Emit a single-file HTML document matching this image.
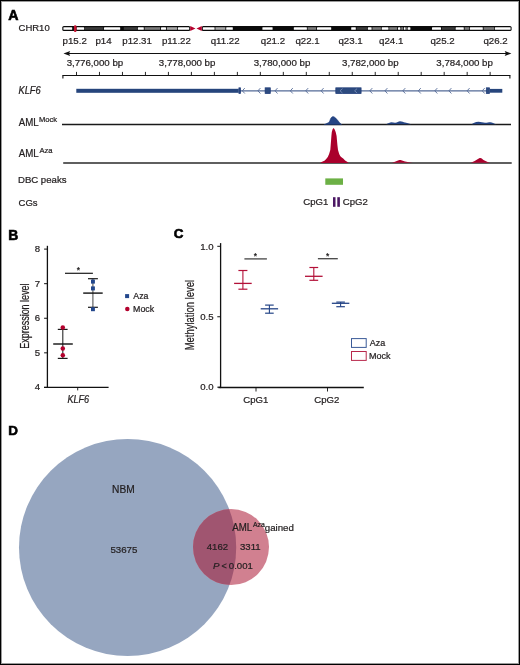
<!DOCTYPE html>
<html><head><meta charset="utf-8"><style>
html,body{margin:0;padding:0;background:#fff;}
svg{display:block;font-family:"Liberation Sans",sans-serif;}
svg{will-change:transform;}
text{stroke:#231f20;stroke-width:0.22px;}
text[font-weight=bold]{stroke:#000;stroke-width:0.6px;}
</style></head><body>
<svg width="520" height="665" viewBox="0 0 520 665">
<rect x="0" y="0" width="520" height="665" fill="#fff"/>
<text x="8.15" y="19.80" font-size="14.2" font-weight="bold" fill="#000">A</text>
<text x="18.52" y="31.30" font-size="9.5" fill="#231f20">CHR10</text>
<rect x="62.3" y="26.0" width="128.0" height="5.0" rx="1.6" fill="#0a0a0a"/>
<rect x="201.7" y="26.0" width="309.9" height="5.0" rx="1.6" fill="#0a0a0a"/>
<rect x="63.4" y="27.2" width="8.80" height="2.6" fill="#ffffff" rx="0.5"/>
<rect x="76.6" y="27.2" width="7.60" height="2.6" fill="#ffffff" rx="0.5"/>
<rect x="85.0" y="27.2" width="18.40" height="2.6" fill="#3c3c3c"/>
<rect x="104.0" y="27.2" width="16.20" height="2.6" fill="#ffffff" rx="0.5"/>
<rect x="123.8" y="27.2" width="13.20" height="2.6" fill="#3c3c3c"/>
<rect x="137.8" y="27.2" width="6.00" height="2.6" fill="#ffffff" rx="0.5"/>
<rect x="144.6" y="27.2" width="15.60" height="2.6" fill="#7d7d7d"/>
<rect x="161.0" y="27.2" width="5.00" height="2.6" fill="#ffffff" rx="0.5"/>
<rect x="166.8" y="27.2" width="10.20" height="2.6" fill="#a9a9a9"/>
<rect x="177.8" y="27.2" width="11.40" height="2.6" fill="#ffffff" rx="0.5"/>
<rect x="202.8" y="27.2" width="11.80" height="2.6" fill="#ffffff" rx="0.5"/>
<rect x="215.4" y="27.2" width="10.00" height="2.6" fill="#a9a9a9"/>
<rect x="226.2" y="27.2" width="6.60" height="2.6" fill="#ffffff" rx="0.5"/>
<rect x="262.4" y="27.2" width="10.20" height="2.6" fill="#ffffff" rx="0.5"/>
<rect x="293.8" y="27.2" width="13.10" height="2.6" fill="#ffffff" rx="0.5"/>
<rect x="307.6" y="27.2" width="8.60" height="2.6" fill="#7d7d7d"/>
<rect x="317.0" y="27.2" width="14.20" height="2.6" fill="#ffffff" rx="0.5"/>
<rect x="351.2" y="27.2" width="4.60" height="2.6" fill="#ffffff" rx="0.5"/>
<rect x="356.6" y="27.2" width="10.40" height="2.6" fill="#3c3c3c"/>
<rect x="367.8" y="27.2" width="3.80" height="2.6" fill="#ffffff" rx="0.5"/>
<rect x="372.4" y="27.2" width="8.50" height="2.6" fill="#7d7d7d"/>
<rect x="381.7" y="27.2" width="6.80" height="2.6" fill="#ffffff" rx="0.5"/>
<rect x="389.2" y="27.2" width="8.00" height="2.6" fill="#7d7d7d"/>
<rect x="398.0" y="27.2" width="2.40" height="2.6" fill="#ffffff" rx="0.5"/>
<rect x="401.2" y="27.2" width="1.80" height="2.6" fill="#7d7d7d"/>
<rect x="403.8" y="27.2" width="1.80" height="2.6" fill="#ffffff" rx="0.5"/>
<rect x="406.2" y="27.2" width="0.80" height="2.6" fill="#7d7d7d"/>
<rect x="407.6" y="27.2" width="2.80" height="2.6" fill="#ffffff" rx="0.5"/>
<rect x="432.0" y="27.2" width="9.00" height="2.6" fill="#ffffff" rx="0.5"/>
<rect x="441.8" y="27.2" width="13.00" height="2.6" fill="#3c3c3c"/>
<rect x="455.6" y="27.2" width="8.20" height="2.6" fill="#ffffff" rx="0.5"/>
<rect x="464.6" y="27.2" width="4.40" height="2.6" fill="#7d7d7d"/>
<rect x="469.8" y="27.2" width="13.00" height="2.6" fill="#ffffff" rx="0.5"/>
<rect x="483.6" y="27.2" width="10.40" height="2.6" fill="#7d7d7d"/>
<rect x="494.8" y="27.2" width="15.80" height="2.6" fill="#ffffff" rx="0.5"/>
<path d="M190.2,26.1 L195.5,28.5 L190.2,30.9 Z M201.8,26.1 L196.5,28.5 L201.8,30.9 Z" fill="#b5002c" stroke="none" stroke-width="1"/>
<rect x="73.9" y="25.2" width="2.6" height="6.8" rx="1.2" fill="#c4102e"/>
<text x="62.57" y="43.80" font-size="9.7" fill="#231f20">p15.2</text>
<text x="95.47" y="43.80" font-size="9.7" fill="#231f20">p14</text>
<text x="122.27" y="43.80" font-size="9.7" fill="#231f20">p12.31</text>
<text x="161.97" y="43.80" font-size="9.7" fill="#231f20">p11.22</text>
<text x="210.69" y="43.80" font-size="9.7" fill="#231f20">q11.22</text>
<text x="260.79" y="43.80" font-size="9.7" fill="#231f20">q21.2</text>
<text x="295.39" y="43.80" font-size="9.7" fill="#231f20">q22.1</text>
<text x="338.49" y="43.80" font-size="9.7" fill="#231f20">q23.1</text>
<text x="379.09" y="43.80" font-size="9.7" fill="#231f20">q24.1</text>
<text x="430.39" y="43.80" font-size="9.7" fill="#231f20">q25.2</text>
<text x="483.39" y="43.80" font-size="9.7" fill="#231f20">q26.2</text>
<line x1="69.00" y1="53.50" x2="506.00" y2="53.50" stroke="#111" stroke-width="1"/>
<path d="M63.5,53.5 L70.2,51.0 L69,53.5 L70.2,56.0 Z" fill="#111" stroke="none" stroke-width="1"/>
<path d="M511.4,53.5 L504.7,51.0 L505.9,53.5 L504.7,56.0 Z" fill="#111" stroke="none" stroke-width="1"/>
<text x="66.63" y="65.80" font-size="9.7" fill="#231f20">3,776,000 bp</text>
<text x="158.83" y="65.80" font-size="9.7" fill="#231f20">3,778,000 bp</text>
<text x="253.73" y="65.80" font-size="9.7" fill="#231f20">3,780,000 bp</text>
<text x="342.03" y="65.80" font-size="9.7" fill="#231f20">3,782,000 bp</text>
<text x="436.33" y="65.80" font-size="9.7" fill="#231f20">3,784,000 bp</text>
<line x1="62.40" y1="75.50" x2="510.40" y2="75.50" stroke="#111" stroke-width="1.1"/>
<line x1="62.90" y1="75.50" x2="62.90" y2="78.50" stroke="#111" stroke-width="1.1"/>
<line x1="509.90" y1="75.50" x2="509.90" y2="78.50" stroke="#111" stroke-width="1.1"/>
<line x1="76.50" y1="71.90" x2="76.50" y2="75.50" stroke="#111" stroke-width="0.9"/>
<line x1="99.48" y1="71.90" x2="99.48" y2="75.50" stroke="#111" stroke-width="0.9"/>
<line x1="122.46" y1="71.90" x2="122.46" y2="75.50" stroke="#111" stroke-width="0.9"/>
<line x1="145.44" y1="71.90" x2="145.44" y2="75.50" stroke="#111" stroke-width="0.9"/>
<line x1="168.42" y1="71.90" x2="168.42" y2="75.50" stroke="#111" stroke-width="0.9"/>
<line x1="191.40" y1="71.90" x2="191.40" y2="75.50" stroke="#111" stroke-width="0.9"/>
<line x1="214.38" y1="71.90" x2="214.38" y2="75.50" stroke="#111" stroke-width="0.9"/>
<line x1="237.36" y1="71.90" x2="237.36" y2="75.50" stroke="#111" stroke-width="0.9"/>
<line x1="260.34" y1="71.90" x2="260.34" y2="75.50" stroke="#111" stroke-width="0.9"/>
<line x1="283.32" y1="71.90" x2="283.32" y2="75.50" stroke="#111" stroke-width="0.9"/>
<line x1="306.30" y1="71.90" x2="306.30" y2="75.50" stroke="#111" stroke-width="0.9"/>
<line x1="329.28" y1="71.90" x2="329.28" y2="75.50" stroke="#111" stroke-width="0.9"/>
<line x1="352.26" y1="71.90" x2="352.26" y2="75.50" stroke="#111" stroke-width="0.9"/>
<line x1="375.24" y1="71.90" x2="375.24" y2="75.50" stroke="#111" stroke-width="0.9"/>
<line x1="398.22" y1="71.90" x2="398.22" y2="75.50" stroke="#111" stroke-width="0.9"/>
<line x1="421.20" y1="71.90" x2="421.20" y2="75.50" stroke="#111" stroke-width="0.9"/>
<line x1="444.18" y1="71.90" x2="444.18" y2="75.50" stroke="#111" stroke-width="0.9"/>
<line x1="467.16" y1="71.90" x2="467.16" y2="75.50" stroke="#111" stroke-width="0.9"/>
<line x1="490.14" y1="71.90" x2="490.14" y2="75.50" stroke="#111" stroke-width="0.9"/>
<text transform="translate(18.51,93.70) scale(1,1.08)" font-size="9.3" font-style="italic" fill="#231f20">KLF6</text>
<rect x="76.30" y="88.80" width="162.40" height="4.00" fill="#26457c"/>
<line x1="240.00" y1="90.90" x2="487.00" y2="90.90" stroke="#556b97" stroke-width="1.4"/>
<rect x="238.90" y="87.80" width="1.70" height="5.80" fill="#2d4b7f" stroke="#1d3a78" stroke-width="0.7"/>
<rect x="265.10" y="87.80" width="5.20" height="5.80" fill="#2d4b7f" stroke="#1d3a78" stroke-width="0.7"/>
<rect x="335.80" y="87.80" width="25.30" height="5.80" fill="#2d4b7f" stroke="#1d3a78" stroke-width="0.7"/>
<rect x="486.30" y="87.80" width="3.30" height="5.80" fill="#2d4b7f" stroke="#1d3a78" stroke-width="0.7"/>
<rect x="489.90" y="88.90" width="12.40" height="3.80" fill="#26457c"/>
<path d="M244.80,88.1 L242.30,90.8 L244.80,93.5" fill="none" stroke="#556b97" stroke-width="0.9"/>
<path d="M260.40,88.1 L257.90,90.8 L260.40,93.5" fill="none" stroke="#556b97" stroke-width="0.9"/>
<path d="M277.50,88.1 L275.00,90.8 L277.50,93.5" fill="none" stroke="#556b97" stroke-width="0.9"/>
<path d="M292.80,88.1 L290.30,90.8 L292.80,93.5" fill="none" stroke="#556b97" stroke-width="0.9"/>
<path d="M308.20,88.1 L305.70,90.8 L308.20,93.5" fill="none" stroke="#556b97" stroke-width="0.9"/>
<path d="M323.60,88.1 L321.10,90.8 L323.60,93.5" fill="none" stroke="#556b97" stroke-width="0.9"/>
<path d="M372.30,88.1 L369.80,90.8 L372.30,93.5" fill="none" stroke="#556b97" stroke-width="0.9"/>
<path d="M387.40,88.1 L384.90,90.8 L387.40,93.5" fill="none" stroke="#556b97" stroke-width="0.9"/>
<path d="M405.30,88.1 L402.80,90.8 L405.30,93.5" fill="none" stroke="#556b97" stroke-width="0.9"/>
<path d="M420.80,88.1 L418.30,90.8 L420.80,93.5" fill="none" stroke="#556b97" stroke-width="0.9"/>
<path d="M437.30,88.1 L434.80,90.8 L437.30,93.5" fill="none" stroke="#556b97" stroke-width="0.9"/>
<path d="M451.40,88.1 L448.90,90.8 L451.40,93.5" fill="none" stroke="#556b97" stroke-width="0.9"/>
<path d="M469.60,88.1 L467.10,90.8 L469.60,93.5" fill="none" stroke="#556b97" stroke-width="0.9"/>
<path d="M484.70,88.1 L482.20,90.8 L484.70,93.5" fill="none" stroke="#556b97" stroke-width="0.9"/>
<path d="M342.50,88.6 L340.00,90.8 L342.50,93.0" fill="none" stroke="#7f93bb" stroke-width="0.8"/>
<path d="M357.10,88.6 L354.60,90.8 L357.10,93.0" fill="none" stroke="#7f93bb" stroke-width="0.8"/>
<text transform="translate(18.78,125.75) scale(1,1.06)" font-size="9.7" fill="#231f20">AML</text>
<text x="38.88" y="121.80" font-size="7.6" fill="#231f20">Mock</text>
<line x1="62.00" y1="124.50" x2="511.00" y2="124.50" stroke="#1a1a1a" stroke-width="1.3"/>
<path d="M324.1,124.6 L325.5,124.0 L327.5,123.1 L328.6,122.5 L329.4,121.6 L330.0,120.2 L330.5,118.7 L331.3,117.6 L332.2,116.8 L333.2,116.5 L334.7,117.2 L335.7,118.1 L336.6,119.1 L338.1,120.8 L339.4,122.5 L340.6,123.5 L341.7,124.6 Z" fill="#254585" stroke="#1d3a78" stroke-width="0.5"/>
<path d="M386.2,124.3 C388,123.5 390,122.3 391.5,122.3 C393,122.4 394,123 395.5,122.8 C397,122.5 398.5,121.2 400,121.2 C402,121.2 403.5,122.2 405,122.5 C407,122.8 409,123.6 411.2,124.3 Z" fill="#254585" stroke="none" stroke-width="1"/>
<path d="M471.5,124.3 C473,123.5 475,122 478.5,121.8 C481,121.8 483,122.6 485,122.8 C487,122.9 488.5,122.2 490.4,122.2 C492,122.3 494,123.6 496.5,124.3 Z" fill="#254585" stroke="none" stroke-width="1"/>
<text transform="translate(18.73,156.75) scale(1,1.06)" font-size="9.7" fill="#231f20">AML</text>
<text x="39.49" y="152.60" font-size="7.6" fill="#231f20">Aza</text>
<line x1="63.20" y1="163.00" x2="511.70" y2="163.00" stroke="#2a2a2a" stroke-width="1.3"/>
<path d="M320.6,163.0 L321.1,162.2 L324.8,160.5 L326.6,158.5 L327.8,157 L329.1,154 L330.3,150 L330.7,145 L331.1,140 L331.4,136 L331.8,132 L332.6,129.3 L333.5,128.0 L334.4,129 L335.3,131 L335.8,132.5 L336.6,136 L336.9,139.5 L337.4,145 L338,150 L339.2,154 L340.2,156 L341.1,157 L343.2,158.5 L345.1,160.5 L347.5,162 L348.5,163.0 Z" fill="#aa002c" stroke="none" stroke-width="1"/>
<path d="M391.9,162.7 C394,162.2 396,161.2 398,160.5 C399,160.1 400,160 400.6,160 C402,160.2 403.5,161 405,161.5 C407.5,162.1 410,162.3 412.7,162.7 Z" fill="#aa002c" stroke="none" stroke-width="1"/>
<path d="M470.8,162.7 C473,162 475.5,160.6 477.5,159.3 C478.8,158.4 479.7,158.1 480.4,158.1 C481.3,158.2 482.2,159 483.5,159.9 C485.5,161 487.5,161.8 490,162.7 Z" fill="#aa002c" stroke="none" stroke-width="1"/>
<text x="17.96" y="183.25" font-size="9.6" fill="#231f20">DBC peaks</text>
<rect x="325.30" y="178.40" width="17.70" height="6.40" fill="#6cb045"/>
<text x="18.52" y="206.10" font-size="9.5" fill="#231f20">CGs</text>
<text x="303.31" y="204.90" font-size="9.6" fill="#231f20">CpG1</text>
<text x="342.81" y="204.90" font-size="9.6" fill="#231f20">CpG2</text>
<rect x="333.00" y="197.20" width="2.50" height="9.60" fill="#4b1763"/>
<rect x="337.30" y="197.20" width="2.60" height="9.60" fill="#4b1763"/>
<text x="8.27" y="240.30" font-size="13.9" font-weight="bold" fill="#000">B</text>
<line x1="47.40" y1="245.80" x2="47.40" y2="388.00" stroke="#111" stroke-width="1.3"/>
<line x1="44.00" y1="387.40" x2="108.60" y2="387.40" stroke="#111" stroke-width="1.3"/>
<line x1="44.10" y1="249.10" x2="47.40" y2="249.10" stroke="#111" stroke-width="1.0"/>
<text x="34.78" y="252.10" font-size="9.6" fill="#231f20">8</text>
<line x1="44.10" y1="283.68" x2="47.40" y2="283.68" stroke="#111" stroke-width="1.0"/>
<text x="34.84" y="286.68" font-size="9.6" fill="#231f20">7</text>
<line x1="44.10" y1="318.26" x2="47.40" y2="318.26" stroke="#111" stroke-width="1.0"/>
<text x="34.78" y="321.26" font-size="9.6" fill="#231f20">6</text>
<line x1="44.10" y1="352.84" x2="47.40" y2="352.84" stroke="#111" stroke-width="1.0"/>
<text x="34.76" y="355.84" font-size="9.6" fill="#231f20">5</text>
<line x1="44.10" y1="387.42" x2="47.40" y2="387.42" stroke="#111" stroke-width="1.0"/>
<text x="34.64" y="390.42" font-size="9.6" fill="#231f20">4</text>
<line x1="77.70" y1="387.40" x2="77.70" y2="390.40" stroke="#111" stroke-width="0.9"/>
<text transform="translate(67.42,402.80) scale(1,1.1)" font-size="9.1" font-style="italic" fill="#231f20">KLF6</text>
<g transform="translate(29.0,316.1) rotate(-90)"><text x="0" y="0" font-size="12" text-anchor="middle" transform="scale(0.747,1)" fill="#231f20">Expression level</text></g>
<line x1="65.00" y1="273.30" x2="92.90" y2="273.30" stroke="#1a1a1a" stroke-width="1.2"/>
<text x="76.86" y="273.00" font-size="8.5" fill="#111">*</text>
<line x1="92.90" y1="278.70" x2="92.90" y2="307.30" stroke="#555" stroke-width="1.1"/>
<line x1="88.00" y1="278.70" x2="97.90" y2="278.70" stroke="#1a1a1a" stroke-width="1.2"/>
<line x1="88.00" y1="307.30" x2="97.90" y2="307.30" stroke="#1a1a1a" stroke-width="1.2"/>
<rect x="91.00" y="279.60" width="3.90" height="4.00" fill="#23478c"/>
<rect x="91.00" y="286.40" width="3.90" height="4.00" fill="#23478c"/>
<rect x="91.00" y="307.20" width="3.90" height="4.00" fill="#23478c"/>
<line x1="83.20" y1="293.10" x2="102.70" y2="293.10" stroke="#111" stroke-width="1.4"/>
<line x1="62.80" y1="329.40" x2="62.80" y2="358.40" stroke="#2a2a2a" stroke-width="1.1"/>
<line x1="57.80" y1="329.40" x2="67.60" y2="329.40" stroke="#1a1a1a" stroke-width="1.2"/>
<line x1="57.80" y1="358.40" x2="67.60" y2="358.40" stroke="#1a1a1a" stroke-width="1.2"/>
<circle cx="62.8" cy="327.6" r="2.25" fill="#b3002d"/>
<circle cx="62.8" cy="348.4" r="2.25" fill="#b3002d"/>
<circle cx="62.8" cy="355.2" r="2.25" fill="#b3002d"/>
<line x1="53.20" y1="344.00" x2="72.80" y2="344.00" stroke="#111" stroke-width="1.4"/>
<rect x="125.10" y="294.10" width="4.00" height="4.00" fill="#23478c"/>
<text x="133.28" y="298.50" font-size="8.8" fill="#231f20">Aza</text>
<circle cx="127.3" cy="309.0" r="2.25" fill="#b3002d"/>
<text x="133.08" y="311.90" font-size="8.8" fill="#231f20">Mock</text>
<text x="173.65" y="237.70" font-size="13.4" font-weight="bold" fill="#000">C</text>
<line x1="220.60" y1="243.10" x2="220.60" y2="388.10" stroke="#111" stroke-width="1.3"/>
<line x1="218.40" y1="387.50" x2="363.80" y2="387.50" stroke="#111" stroke-width="1.3"/>
<line x1="217.30" y1="246.30" x2="220.60" y2="246.30" stroke="#111" stroke-width="1.0"/>
<text x="200.23" y="249.50" font-size="9.6" fill="#231f20">1.0</text>
<line x1="217.30" y1="316.75" x2="220.60" y2="316.75" stroke="#111" stroke-width="1.0"/>
<text x="200.26" y="319.95" font-size="9.6" fill="#231f20">0.5</text>
<line x1="217.30" y1="387.20" x2="220.60" y2="387.20" stroke="#111" stroke-width="1.0"/>
<text x="200.23" y="390.40" font-size="9.6" fill="#231f20">0.0</text>
<line x1="256.00" y1="387.50" x2="256.00" y2="391.50" stroke="#111" stroke-width="0.9"/>
<line x1="327.50" y1="387.50" x2="327.50" y2="391.50" stroke="#111" stroke-width="0.9"/>
<text x="243.31" y="402.90" font-size="9.6" fill="#231f20">CpG1</text>
<text x="314.31" y="403.40" font-size="9.6" fill="#231f20">CpG2</text>
<g transform="translate(194.0,315.1) rotate(-90)"><text x="0" y="0" font-size="12" text-anchor="middle" transform="scale(0.788,1)" fill="#231f20">Methylation level</text></g>
<line x1="244.40" y1="258.90" x2="266.90" y2="258.90" stroke="#444" stroke-width="1.3"/>
<text x="253.86" y="258.60" font-size="8.5" fill="#111">*</text>
<line x1="317.90" y1="258.70" x2="337.80" y2="258.70" stroke="#444" stroke-width="1.3"/>
<text x="325.96" y="258.50" font-size="8.5" fill="#111">*</text>
<line x1="242.90" y1="270.50" x2="242.90" y2="289.20" stroke="#b31038" stroke-width="1.1"/>
<line x1="238.40" y1="270.50" x2="247.40" y2="270.50" stroke="#b31038" stroke-width="1.2"/>
<line x1="238.40" y1="289.20" x2="247.40" y2="289.20" stroke="#b31038" stroke-width="1.2"/>
<line x1="234.10" y1="283.40" x2="251.70" y2="283.40" stroke="#b31038" stroke-width="1.3"/>
<line x1="269.40" y1="305.10" x2="269.40" y2="313.20" stroke="#254587" stroke-width="1.1"/>
<line x1="265.10" y1="305.10" x2="273.70" y2="305.10" stroke="#254587" stroke-width="1.2"/>
<line x1="265.10" y1="313.20" x2="273.70" y2="313.20" stroke="#254587" stroke-width="1.2"/>
<line x1="260.70" y1="308.80" x2="278.10" y2="308.80" stroke="#254587" stroke-width="1.3"/>
<line x1="313.80" y1="267.50" x2="313.80" y2="280.30" stroke="#b31038" stroke-width="1.1"/>
<line x1="309.40" y1="267.50" x2="318.20" y2="267.50" stroke="#b31038" stroke-width="1.2"/>
<line x1="309.40" y1="280.30" x2="318.20" y2="280.30" stroke="#b31038" stroke-width="1.2"/>
<line x1="305.00" y1="276.30" x2="322.60" y2="276.30" stroke="#b31038" stroke-width="1.3"/>
<line x1="340.60" y1="302.10" x2="340.60" y2="306.70" stroke="#254587" stroke-width="1.1"/>
<line x1="336.30" y1="302.10" x2="344.90" y2="302.10" stroke="#254587" stroke-width="1.2"/>
<line x1="336.30" y1="306.70" x2="344.90" y2="306.70" stroke="#254587" stroke-width="1.2"/>
<line x1="331.85" y1="303.30" x2="349.35" y2="303.30" stroke="#254587" stroke-width="1.3"/>
<rect x="351.5" y="338.6" width="14.7" height="8.8" fill="none" stroke="#3a5a98" stroke-width="1"/>
<rect x="351.5" y="351.5" width="14.7" height="8.9" fill="none" stroke="#b8284c" stroke-width="1"/>
<text x="369.78" y="345.60" font-size="9.0" fill="#231f20">Aza</text>
<text x="369.06" y="358.60" font-size="9.0" fill="#231f20">Mock</text>
<text x="8.30" y="434.80" font-size="13.4" font-weight="bold" fill="#000">D</text>
<defs><clipPath id="cb"><circle cx="127.6" cy="547.5" r="108.6"/></clipPath></defs>
<circle cx="127.6" cy="547.5" r="108.6" fill="#96a6c0"/>
<circle cx="231.0" cy="547.1" r="38.0" fill="#d18090"/>
<circle cx="231.0" cy="547.1" r="38.0" fill="#a05570" clip-path="url(#cb)"/>
<text x="112.06" y="493.10" font-size="10.2" fill="#231f20">NBM</text>
<text x="110.41" y="553.40" font-size="9.7" fill="#231f20">53675</text>
<text transform="translate(232.18,530.60) scale(1,1.06)" font-size="9.7" fill="#231f20">AML</text>
<text x="252.89" y="526.50" font-size="6.9" fill="#231f20">Aza</text>
<text x="264.79" y="530.60" font-size="9.7" fill="#231f20">gained</text>
<text x="206.78" y="549.50" font-size="9.6" fill="#231f20">4162</text>
<text x="240.03" y="549.50" font-size="9.6" fill="#231f20">3311</text>
<text x="213.00" y="569.10" font-size="9.7" font-style="italic" fill="#231f20">P</text>
<text x="221.56" y="568.80" font-size="9.0" fill="#231f20">&lt;</text>
<text x="228.82" y="569.10" font-size="9.6" fill="#231f20">0.001</text>
<rect x="1.5" y="1.5" width="517" height="662" fill="none" stroke="#9a9a9a" stroke-width="1"/>
<rect x="0.5" y="0.5" width="519" height="664" fill="none" stroke="#000" stroke-width="1"/>
</svg>
</body></html>
